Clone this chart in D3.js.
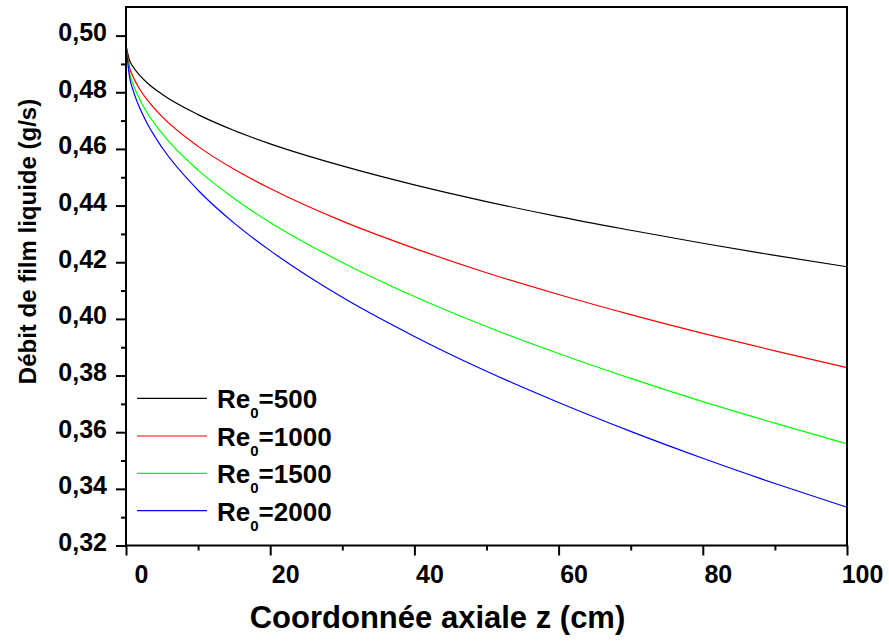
<!DOCTYPE html>
<html>
<head>
<meta charset="utf-8">
<script src="https://cdn.jsdelivr.net/npm/d3@7"></script>
<style>
  body { margin: 0; background: #fff; }
  svg { display: block; font-family: Arial, "Liberation Sans", sans-serif; font-weight: bold; }
</style>
</head>
<body>
<div id="chart"></div>
<script>
// z positions (cm) and film flow rate (g/s)
const zValues = [0, 0.5, 1, 2, 3, 5, 10, 15, 20, 30, 40, 50, 60, 70, 80, 90, 100];
const re500 = [0.4966, 0.4912, 0.4889, 0.4857, 0.4832, 0.4793, 0.4721, 0.4665, 0.4618, 0.4540, 0.4473, 0.4414, 0.4361, 0.4313, 0.4267, 0.4224, 0.4184];
const re1000 = [0.4966, 0.4887, 0.4854, 0.4807, 0.4771, 0.4714, 0.4609, 0.4528, 0.4460, 0.4345, 0.4249, 0.4163, 0.4086, 0.4015, 0.3949, 0.3887, 0.3828];
const re1500 = [0.4966, 0.4868, 0.4828, 0.4770, 0.4725, 0.4655, 0.4525, 0.4425, 0.4340, 0.4199, 0.4079, 0.3973, 0.3878, 0.3790, 0.3708, 0.3632, 0.3559];
const re2000 = [0.4966, 0.4853, 0.4806, 0.4739, 0.4687, 0.4605, 0.4454, 0.4338, 0.4241, 0.4076, 0.3938, 0.3815, 0.3705, 0.3603, 0.3508, 0.3419, 0.3335];

const seriesNames = ['500', '1000', '1500', '2000'];
const seriesColors = ['#000000', '#ff0000', '#00ff00', '#0000ff'];
const seriesValues = [re500, re1000, re1500, re2000];

const xTicks = [0, 20, 40, 60, 80, 100];
const xMinor = [10, 30, 50, 70, 90];
const yTicks = [0.32, 0.34, 0.36, 0.38, 0.40, 0.42, 0.44, 0.46, 0.48, 0.50];
const yMinor = [0.33, 0.35, 0.37, 0.39, 0.41, 0.43, 0.45, 0.47, 0.49];

const width = 889;
const height = 641;
const margin = { top: 7, right: 42, bottom: 95.5, left: 126 };
const fontFamily = 'Arial, "Liberation Sans", sans-serif';

const svg = d3.select('#chart')
  .append('svg')
  .attr('width', width)
  .attr('height', height);

const xScale = d3.scaleLinear()
  .domain([0, 100])
  .range([margin.left, width - margin.right]);

const yScale = d3.scaleLinear()
  .domain([0.32, 0.5101])
  .range([height - margin.bottom, margin.top]);

const fmt = (d) => d3.format('.2f')(d).replace('.', ',');

// Curves
const line = d3.line()
  .x((d) => xScale(d[0]))
  .y((d) => yScale(d[1]))
  .curve(d3.curveMonotoneX);

svg.append('g')
  .attr('class', 'curves')
  .selectAll('path')
  .data(seriesValues)
  .join('path')
  .attr('d', (vals) => line(zValues.map((z, i) => [z, vals[i]])))
  .attr('fill', 'none')
  .attr('stroke', (d, i) => seriesColors[i])
  .attr('stroke-width', 1.2);

// Frame
svg.append('rect')
  .attr('x', xScale(0))
  .attr('y', yScale.range()[1])
  .attr('width', xScale(100) - xScale(0))
  .attr('height', yScale.range()[0] - yScale.range()[1])
  .attr('fill', 'none')
  .attr('stroke', '#000')
  .attr('stroke-width', 2);

// X axis
const xAxisG = svg.append('g')
  .attr('transform', `translate(0, ${yScale.range()[0]})`)
  .call(d3.axisBottom(xScale).tickValues(xTicks).tickSize(10).tickFormat((d) => d));

svg.append('g')
  .attr('transform', `translate(0, ${yScale.range()[0]})`)
  .call(d3.axisBottom(xScale).tickValues(xMinor).tickSize(5).tickFormat(''));

// Y axis
const yAxisG = svg.append('g')
  .attr('transform', `translate(${xScale(0)}, 0)`)
  .call(d3.axisLeft(yScale).tickValues(yTicks).tickSize(10).tickPadding(9).tickFormat(fmt));

svg.append('g')
  .attr('transform', `translate(${xScale(0)}, 0)`)
  .call(d3.axisLeft(yScale).tickValues(yMinor).tickSize(5).tickFormat(''));

svg.selectAll('.domain').remove();
svg.selectAll('.tick line').attr('stroke', '#000').attr('stroke-width', 2);

xAxisG.selectAll('text')
  .attr('x', 15)
  .attr('y', 37)
  .attr('dy', null)
  .attr('fill', '#000')
  .style('font-size', '25px')
  .style('font-weight', 'bold')
  .style('font-family', fontFamily);

yAxisG.selectAll('text')
  .attr('y', -3)
  .attr('fill', '#000')
  .style('font-size', '25px')
  .style('font-weight', 'bold')
  .style('font-family', fontFamily);

// Axis titles
svg.append('text')
  .attr('x', 437.5)
  .attr('y', 628)
  .attr('text-anchor', 'middle')
  .style('font-size', '31px')
  .text('Coordonnée axiale z (cm)');

svg.append('text')
  .attr('transform', 'translate(36, 241.5) rotate(-90)')
  .attr('text-anchor', 'middle')
  .style('font-size', '24px')
  .text('Débit de film liquide (g/s)');

// Legend
const legendY = [398.3, 436, 473.3, 510.7];
const legend = svg.append('g').attr('class', 'legend');

seriesNames.forEach((name, i) => {
  const y = legendY[i];
  legend.append('line')
    .attr('x1', 137).attr('x2', 207)
    .attr('y1', y).attr('y2', y)
    .attr('stroke', seriesColors[i])
    .attr('stroke-width', 1.2);

  const t = legend.append('text')
    .attr('x', 217)
    .attr('y', y + 10)
    .style('font-size', '26px');
  t.append('tspan').text('Re');
  t.append('tspan').attr('dy', 10).style('font-size', '15px').text('0');
  t.append('tspan').attr('dy', -10).text('=' + name);
});
</script>
</body>
</html>
